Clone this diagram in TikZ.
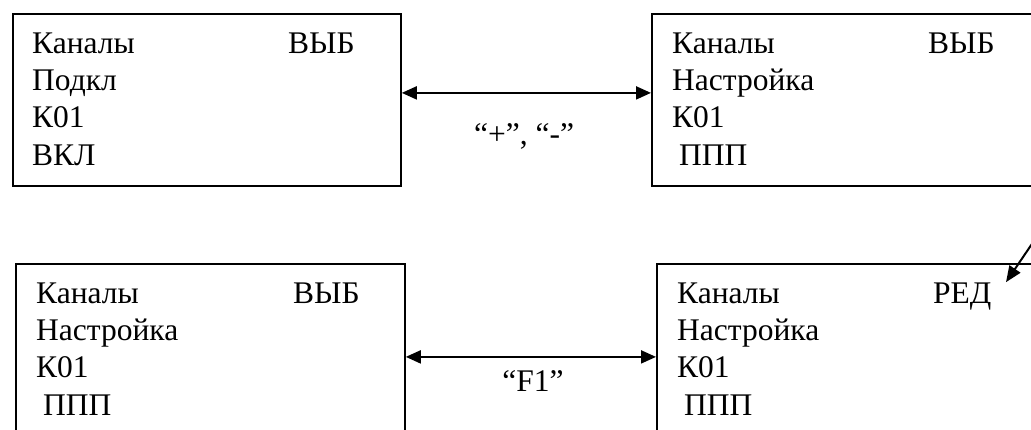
\documentclass[tikz,border=0pt]{standalone}
\usepackage{fontspec}
\setmainfont{Liberation Serif}
\usetikzlibrary{arrows.meta}
\tikzset{
  screen/.style={draw, line width=1.8pt, anchor=north west, inner sep=0pt, minimum height=172pt, minimum width=#1},
  txt/.style={anchor=base west, inner sep=0pt, font=\fontsize{31.5}{37}\selectfont},
  lbl/.style={anchor=base, inner sep=0pt, font=\fontsize{31.5}{37}\selectfont},
  conn/.style={line width=2pt, {Triangle[length=15pt,width=13pt]}-{Triangle[length=15pt,width=13pt]}},
  diag/.style={line width=2pt, -{Triangle[length=16pt,width=13pt]}}
}
\begin{document}
\begin{tikzpicture}[x=1pt,y=-1pt]
\useasboundingbox (0,0) rectangle (1031,429);
\begin{scope}
\clip (0,0) rectangle (1031,429);
% boxes
\node[screen=388pt] (A) at (12,13) {};
\node[screen=400pt] (B) at (651,13) {};
\node[screen=389pt, minimum height=190pt] (C) at (15,263) {};
\node[screen=400pt, minimum height=190pt] (D) at (656,263) {};
% texts box A
\node[txt] (a1) at (32,53) {Каналы};
\node[txt] (a2) at (288,53) {ВЫБ};
\node[txt] (a3) at (32,90) {Подкл};
\node[txt] (a4) at (32,127) {К01};
\node[txt] (a5) at (32,165) {ВКЛ};
% texts box B
\node[txt] (b1) at (672,53) {Каналы};
\node[txt] (b2) at (928,53) {ВЫБ};
\node[txt] (b3) at (672,90) {Настройка};
\node[txt] (b4) at (672,127) {К01};
\node[txt] (b5) at (679,165) {ППП};
% texts box C
\node[txt] (c1) at (36,303) {Каналы};
\node[txt] (c2) at (293,303) {ВЫБ};
\node[txt] (c3) at (36,340) {Настройка};
\node[txt] (c4) at (36,377) {К01};
\node[txt] (c5) at (43,415) {ППП};
% texts box D
\node[txt] (d1) at (677,303) {Каналы};
\node[txt] (d2) at (933,303) {РЕД};
\node[txt] (d3) at (677,340) {Настройка};
\node[txt] (d4) at (677,377) {К01};
\node[txt] (d5) at (684,415) {ППП};
% connectors
\draw[conn] ([yshift=7pt]A.east) -- ([yshift=7pt]B.west);
\draw[conn] ([yshift=2pt]C.east) -- ([yshift=2pt]D.west);
\node[lbl] (l1) at (524,144) {“+”, “-”};
\node[lbl] (l2) at (533,391) {“F1”};
\coordinate (in) at (1040,232);
\draw[diag] (in) -- (d2.north east -| 1006,282);
\end{scope}
\end{tikzpicture}
\end{document}
